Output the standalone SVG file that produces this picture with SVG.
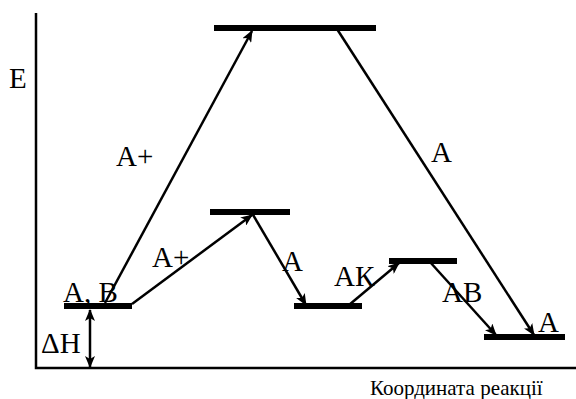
<svg xmlns="http://www.w3.org/2000/svg" width="576" height="399" viewBox="0 0 576 399">
<style>
.ax{stroke:#000;stroke-width:2.5;fill:none}
.lv{stroke:#000;stroke-width:6;fill:none}
.ar{stroke:#000;stroke-width:2.5;fill:none;marker-end:url(#ah)}
</style>
<defs>
<marker id="ah" viewBox="0 0 12 10" refX="11" refY="5" markerWidth="12" markerHeight="10" markerUnits="userSpaceOnUse" orient="auto-start-reverse">
<path d="M0,0 L12,5 L0,10 L3,5 Z" fill="#000"/>
</marker>
</defs>
<rect width="576" height="399" fill="#fff"/>
<g id="axes">
<path class="ax" d="M36,13 V368 H576"/>
<text x="9" y="88" style="font-family:'Liberation Serif',serif !important;font-size:29px !important;fill:#000">E</text>
<text x="370" y="395" style="font-family:'Liberation Serif',serif !important;font-size:21px !important;fill:#000">Координата реакції</text>
</g>
<g id="level-ab"><path class="lv" d="M64,306 H132"/></g>
<g id="level-top"><path class="lv" d="M214,28 H376"/></g>
<g id="level-mid1"><path class="lv" d="M210,212 H290"/></g>
<g id="level-mid2"><path class="lv" d="M294,306 H362"/></g>
<g id="level-mid3"><path class="lv" d="M389,261 H457"/></g>
<g id="level-end"><path class="lv" d="M484,337 H565"/></g>
<g id="connectors">
<path class="ar" d="M105,303 L252,31"/>
<path class="ar" d="M132,304 L252,215"/>
<path class="ar" d="M252,213 L306,305"/>
<path class="ar" d="M349,305 L399,263"/>
<path class="ar" d="M430,262 L496,335"/>
<path class="ar" d="M337,29 L534,335"/>
<path class="ar" d="M90,310 L90,367" marker-start="url(#ah)"/>
</g>
<g id="labels">
<text x="63" y="302" style="font-family:'Liberation Serif',serif !important;font-size:29px !important;fill:#000">A, B</text>
<text x="538" y="332" style="font-family:'Liberation Serif',serif !important;font-size:29px !important;fill:#000">A</text>
<text x="116" y="166" style="font-family:'Liberation Serif',serif !important;font-size:29px !important;fill:#000">A+</text>
<text x="152" y="267" style="font-family:'Liberation Serif',serif !important;font-size:29px !important;fill:#000">A+</text>
<text x="282" y="271" style="font-family:'Liberation Serif',serif !important;font-size:29px !important;fill:#000">A</text>
<text x="334" y="286" style="font-family:'Liberation Serif',serif !important;font-size:29px !important;fill:#000">AК</text>
<text x="442" y="302" style="font-family:'Liberation Serif',serif !important;font-size:29px !important;fill:#000">AB</text>
<text x="431" y="162" style="font-family:'Liberation Serif',serif !important;font-size:29px !important;fill:#000">A</text>
<text x="41" y="353" style="font-family:'Liberation Serif',serif !important;font-size:29px !important;fill:#000">ΔH</text>
</g>
</svg>
